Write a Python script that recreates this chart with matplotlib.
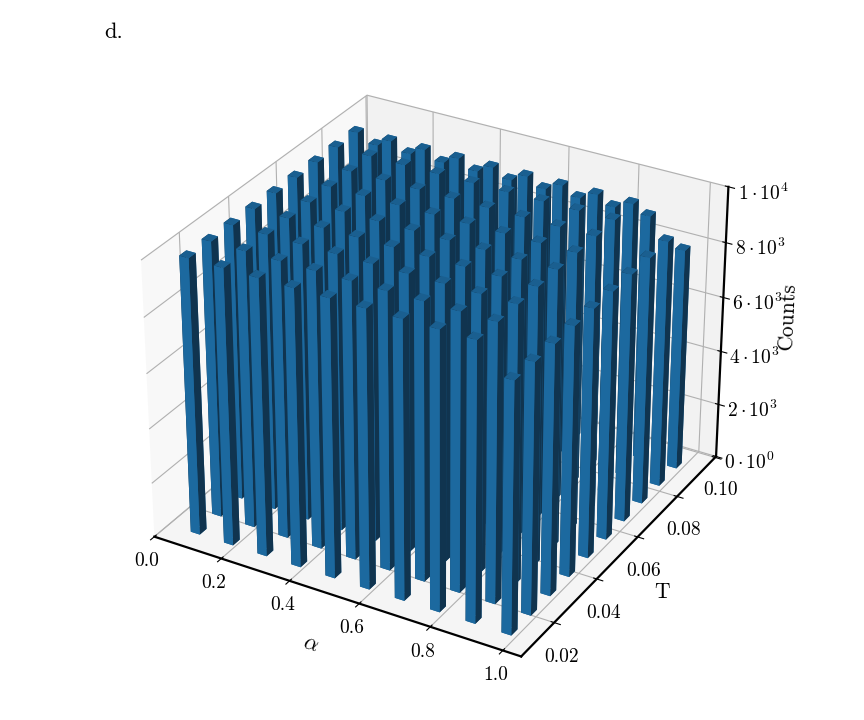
import numpy as np
import matplotlib
matplotlib.use('Agg')
import matplotlib.pyplot as plt

plt.rcParams['font.family'] = 'serif'
plt.rcParams['font.serif'] = ['cmr10', 'DejaVu Serif']
plt.rcParams['mathtext.fontset'] = 'cm'
plt.rcParams['axes.formatter.use_mathtext'] = True
plt.rcParams['axes.unicode_minus'] = False

alpha_bins = [0.0665, 0.1658, 0.2651, 0.3644, 0.4637, 0.5630, 0.6623, 0.7616, 0.8609, 0.9602]
T_bins = [0.0109, 0.0198, 0.0287, 0.0376, 0.0465, 0.0554, 0.0643, 0.0732, 0.0821, 0.0910]

# rows are T, columns are alpha
counts = [
    [10000, 10000, 10000, 10000, 10000, 10000, 10000, 10000, 10000, 9000],
    [10000, 10000, 10000, 10000, 10000, 10000, 10000, 10000, 10000, 9000],
    [10000, 10000, 10000, 10000, 10000, 10000, 10000, 10000, 10000, 9000],
    [10000, 10000, 10000, 10000, 10000, 10000, 10000, 10000, 10000, 9000],
    [10000, 10000, 10000, 10000, 10000, 10000, 10000, 10000, 10000, 9000],
    [10000, 10000, 10000, 10000, 10000, 10000, 10000, 10000, 10000, 9000],
    [10000, 10000, 10000, 10000, 10000, 10000, 10000, 10000, 10000, 9000],
    [10000, 10000, 10000, 10000, 10000, 10000, 10000, 10000, 10000, 9000],
    [10000, 10000, 10000, 10000, 10000, 10000, 10000, 10000, 10000, 9000],
    [9000, 9000, 9000, 9000, 9000, 9000, 9000, 9000, 9000, 8100],
]

x_ticks = [0.0, 0.2, 0.4, 0.6, 0.8, 1.0]
y_ticks = [0.02, 0.04, 0.06, 0.08, 0.10]
z_ticks = [0, 2000, 4000, 6000, 8000, 10000]
z_labels = [r'$0 \cdot 10^{0}$', r'$2 \cdot 10^{3}$', r'$4 \cdot 10^{3}$',
            r'$6 \cdot 10^{3}$', r'$8 \cdot 10^{3}$', r'$1 \cdot 10^{4}$']

fig = plt.figure(figsize=(8.64, 7.2), dpi=100)
ax = fig.add_axes([0.043, 0.031, 0.913, 0.907], projection='3d')

xpos, ypos = np.meshgrid(alpha_bins, T_bins)
zz = np.array(counts, dtype=float).ravel()
# bottom, top, -y, +y, -x, +x
face_colors = ['#1a5f90', '#1a5f90', '#1c699f', '#1c699f', '#10344f', '#10344f'] * len(zz)
ax.bar3d(xpos.ravel(), ypos.ravel(), np.zeros_like(zz), 0.027, 0.0028, zz,
         color=face_colors, shade=False)

ax.set_xlim(0, 1.05)
ax.set_ylim(0.005, 0.1005)
ax.set_zlim(0, 10000)
ax.set_xticks(x_ticks)
ax.set_xticklabels(['%.1f' % v for v in x_ticks], fontsize=14)
ax.set_yticks(y_ticks)
ax.set_yticklabels(['%.2f' % v for v in y_ticks], fontsize=14, ha='right')
ax.set_zticks(z_ticks)
ax.set_zticklabels(z_labels, fontsize=14)
ax.tick_params(axis='x', pad=0)
ax.tick_params(axis='y', pad=8)
ax.tick_params(axis='z', pad=7)
ax.set_xlabel(r'$\alpha$', fontsize=16, labelpad=4)
ax.set_ylabel('T', fontsize=15.5, labelpad=5)
ax.set_zlabel('Counts', fontsize=15.5, labelpad=8)

for axis in [ax.xaxis, ax.yaxis, ax.zaxis]:
    axis.line.set_linewidth(1.6)
    axis.line.set_color('black')

fig.text(0.121, 0.947, 'd.', fontsize=16)

fig.savefig('out.png', dpi=100)
